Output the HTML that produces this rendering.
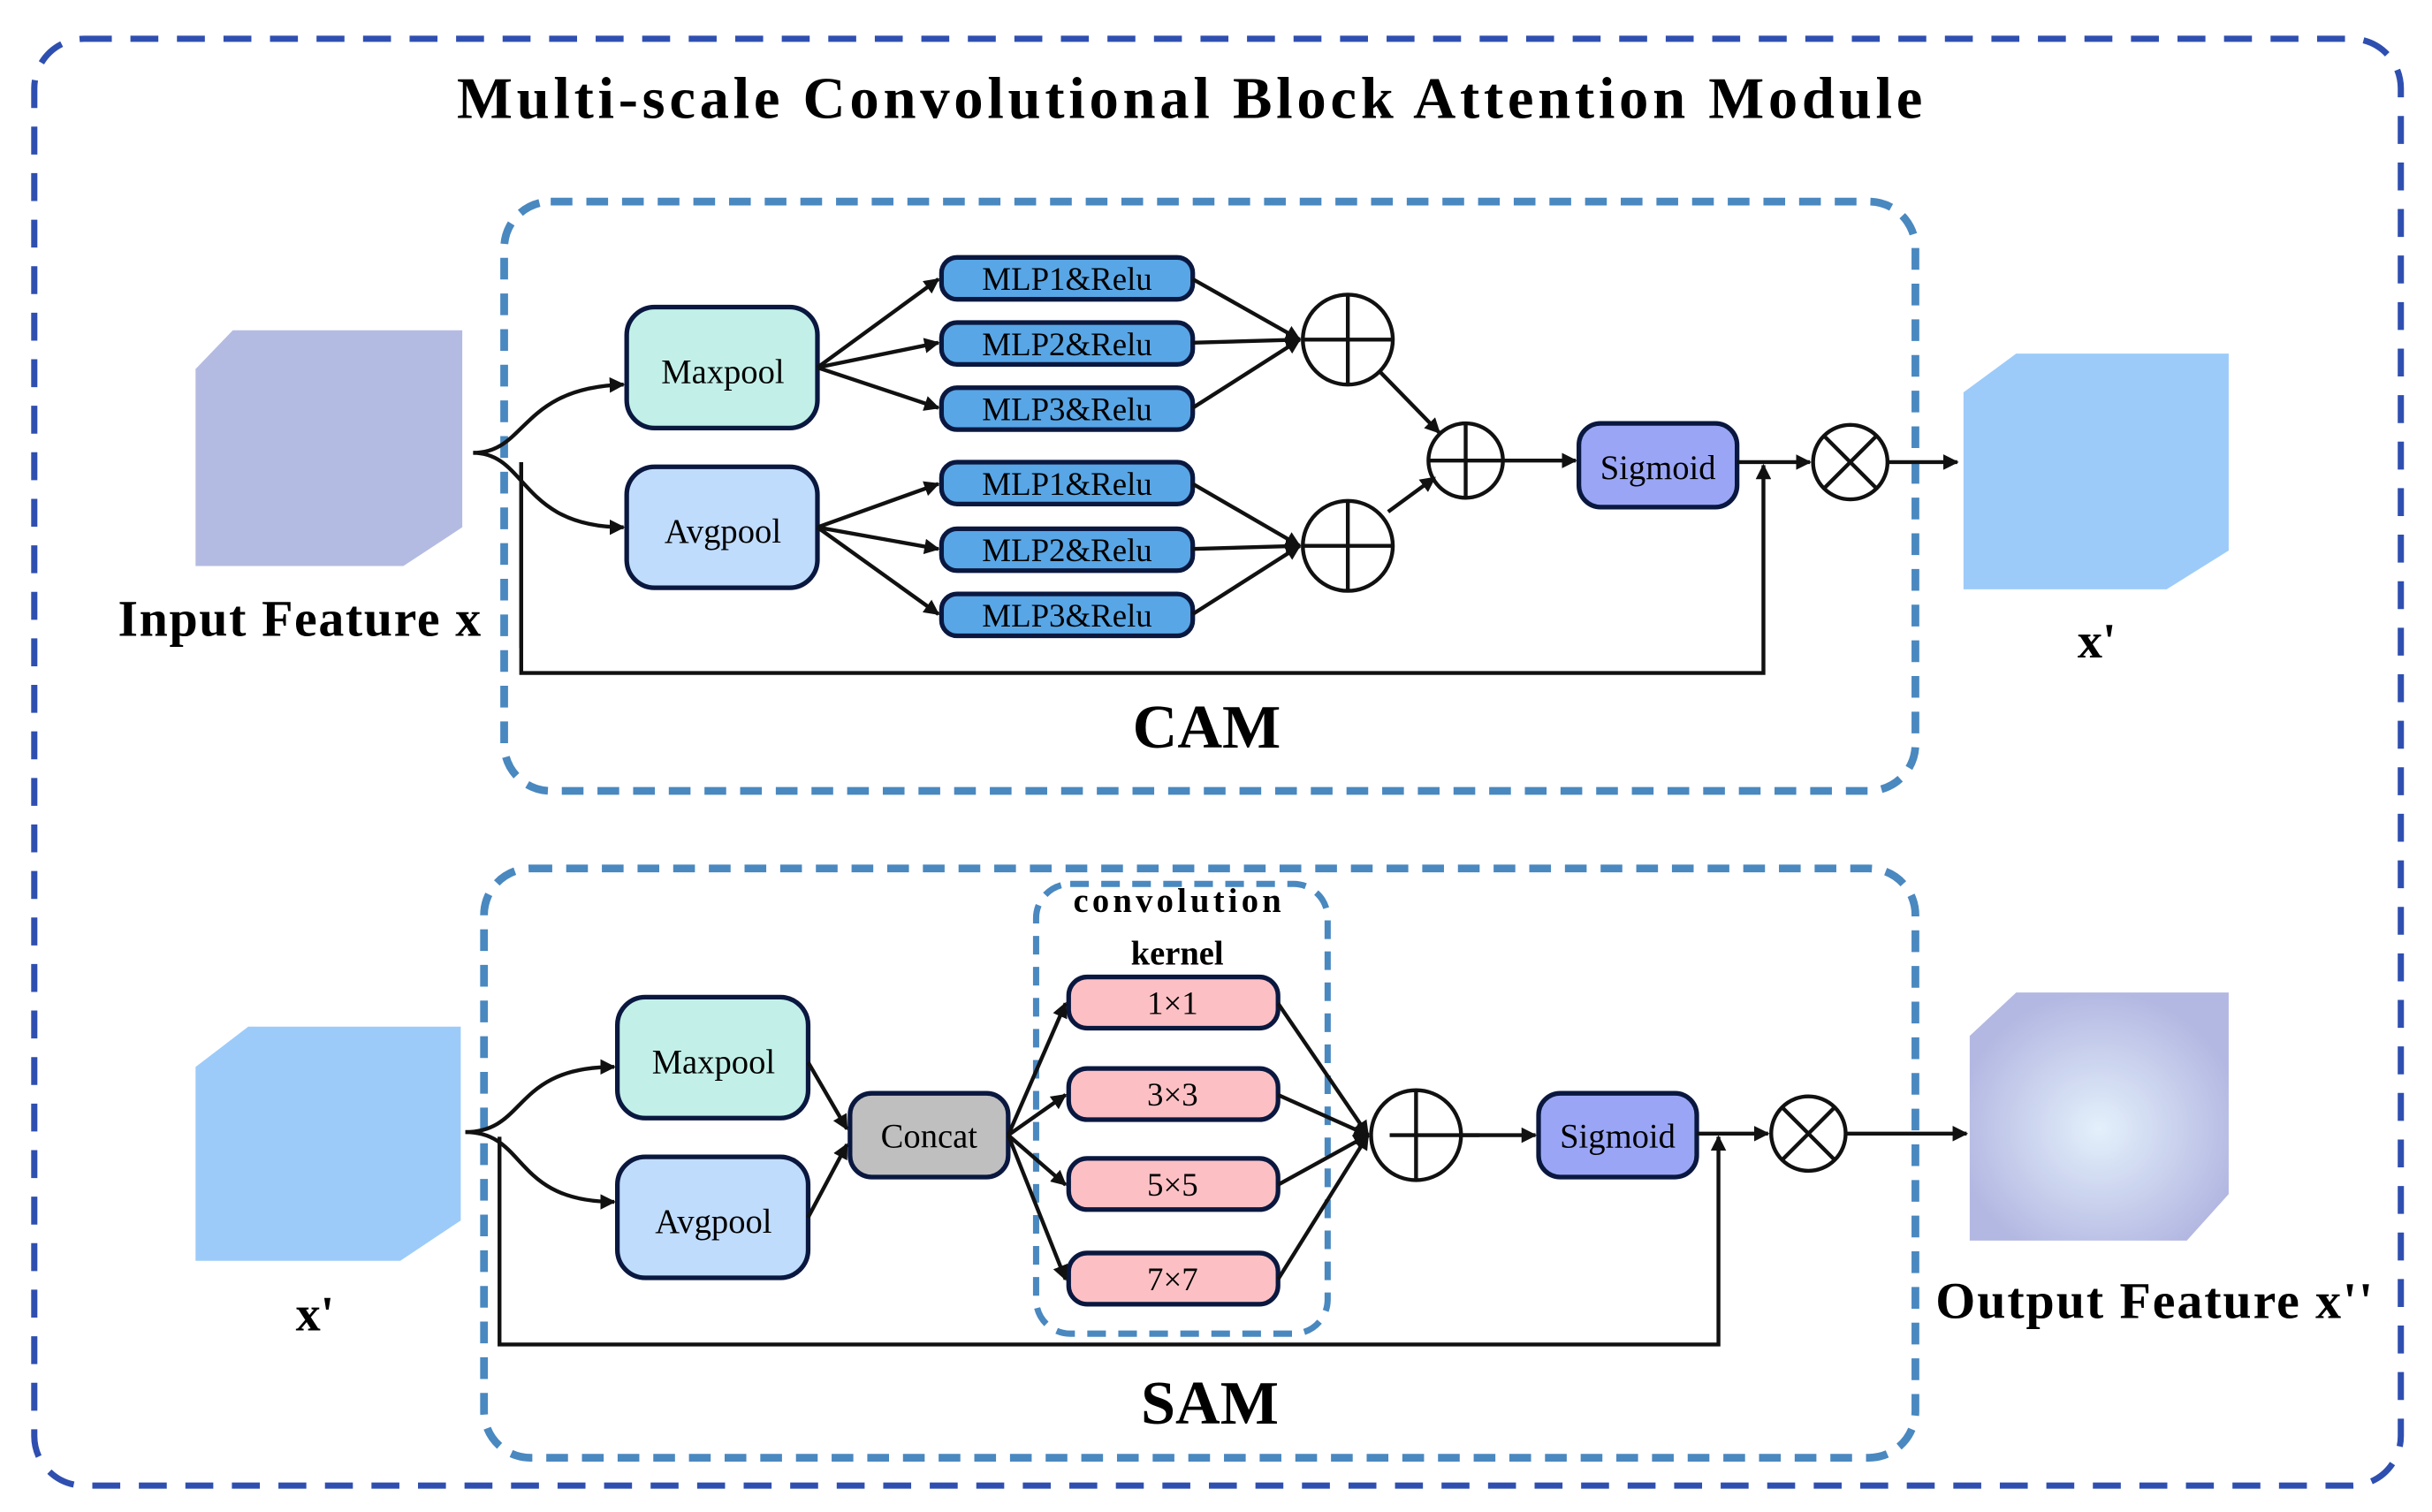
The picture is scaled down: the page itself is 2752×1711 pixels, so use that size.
<!DOCTYPE html>
<html><head><meta charset="utf-8"><style>
html,body{margin:0;padding:0;background:#fff;}
svg{display:block;}
text{font-family:"Liberation Serif",serif;}
</style></head><body>
<svg width="2752" height="1711" viewBox="0 0 1568 975" xmlns="http://www.w3.org/2000/svg">
<defs>
<marker id="a" markerWidth="10" markerHeight="10" refX="9" refY="5" orient="auto" markerUnits="userSpaceOnUse"><path d="M0,0 L10,5 L0,10 z" fill="#111"/></marker>
<radialGradient id="g" cx="50%" cy="55%" r="55%"><stop offset="0" stop-color="#e4f0fb"/><stop offset="1" stop-color="#b3b8e2"/></radialGradient>
</defs>
<rect x="22" y="25" width="1526" height="933" rx="32" fill="none" stroke="#2f4fb0" stroke-width="4" stroke-dasharray="18,12"/>
<text x="767" y="76" font-size="38" font-weight="bold" text-anchor="middle" textLength="945" lengthAdjust="spacing">Multi-scale Convolutional Block Attention Module</text>
<rect x="325" y="130" width="910" height="380" rx="30" fill="none" stroke="#4a88c0" stroke-width="5" stroke-dasharray="14,9"/>
<rect x="312" y="560" width="923" height="380" rx="30" fill="none" stroke="#4a88c0" stroke-width="5" stroke-dasharray="14,9"/>
<rect x="668" y="570" width="188" height="290" rx="22" fill="none" stroke="#4a88c0" stroke-width="4" stroke-dasharray="12,8"/>
<text x="778" y="482" font-size="40" font-weight="bold" text-anchor="middle">CAM</text>
<text x="780" y="918" font-size="40" font-weight="bold" text-anchor="middle">SAM</text>
<text x="759" y="588" font-size="22" font-weight="bold" text-anchor="middle" textLength="134" lengthAdjust="spacing">convolution</text>
<text x="759" y="622" font-size="22" font-weight="bold" text-anchor="middle">kernel</text>
<polygon points="150,213 298,213 298,340 260,365 126,365 126,238" fill="#b4bbe2"/>
<text x="193" y="410" font-size="33" font-weight="bold" text-anchor="middle" textLength="234" lengthAdjust="spacing">Input Feature x</text>
<polygon points="1300,228 1437,228 1437,355 1397,380 1266,380 1266,253" fill="#9ccbf9"/>
<text x="1352" y="424" font-size="32" font-weight="bold" text-anchor="middle">x'</text>
<polygon points="160,662 297,662 297,787 258,813 126,813 126,688" fill="#9ccbf9"/>
<text x="203" y="858" font-size="32" font-weight="bold" text-anchor="middle">x'</text>
<polygon points="1300,640 1437,640 1437,770 1410,800 1270,800 1270,668" fill="url(#g)"/>
<text x="1389" y="850" font-size="33" font-weight="bold" text-anchor="middle" textLength="282" lengthAdjust="spacing">Output Feature x''</text>
<g stroke="#0a1840" stroke-width="3">
<rect x="404" y="198" width="123" height="78" rx="18" fill="#c2f0e8"/>
<rect x="404" y="301" width="123" height="78" rx="18" fill="#c0dcfc"/>
<rect x="398" y="643" width="123" height="78" rx="18" fill="#c2f0e8"/>
<rect x="398" y="746" width="123" height="78" rx="18" fill="#c0dcfc"/>
<rect x="548" y="705" width="102" height="54" rx="14" fill="#bfbfbf"/>
<rect x="1018" y="273" width="102" height="54" rx="14" fill="#9aa6f5"/>
<rect x="992" y="705" width="102" height="54" rx="14" fill="#9aa6f5"/>
<g fill="#58a6e6">
<rect x="607" y="166" width="162" height="27" rx="10"/>
<rect x="607" y="208" width="162" height="27" rx="10"/>
<rect x="607" y="250" width="162" height="27" rx="10"/>
<rect x="607" y="298" width="162" height="27" rx="10"/>
<rect x="607" y="341" width="162" height="27" rx="10"/>
<rect x="607" y="383" width="162" height="27" rx="10"/>
</g>
<g fill="#fcc0c4">
<rect x="689" y="630" width="135" height="33" rx="12"/>
<rect x="689" y="689" width="135" height="33" rx="12"/>
<rect x="689" y="747" width="135" height="33" rx="12"/>
<rect x="689" y="808" width="135" height="33" rx="12"/>
</g>
</g>
<g font-size="22" text-anchor="middle">
<text x="466" y="247">Maxpool</text><text x="466" y="350">Avgpool</text>
<text x="460" y="692">Maxpool</text><text x="460" y="795">Avgpool</text>
<text x="599" y="740">Concat</text>
<text x="1069" y="309">Sigmoid</text><text x="1043" y="740">Sigmoid</text>
</g>
<g font-size="21" text-anchor="middle">
<text x="688" y="187">MLP1&amp;Relu</text><text x="688" y="229">MLP2&amp;Relu</text><text x="688" y="271">MLP3&amp;Relu</text>
<text x="688" y="319">MLP1&amp;Relu</text><text x="688" y="362">MLP2&amp;Relu</text><text x="688" y="404">MLP3&amp;Relu</text>
<text x="756" y="654">1×1</text><text x="756" y="713">3×3</text><text x="756" y="771">5×5</text><text x="756" y="832">7×7</text>
</g>
<g fill="#fff" stroke="#111" stroke-width="2.5">
<circle cx="869" cy="219" r="29"/><circle cx="869" cy="352" r="29"/><circle cx="945" cy="297" r="24"/>
<circle cx="1193" cy="298" r="24"/><circle cx="913" cy="732" r="29"/><circle cx="1166" cy="731" r="24"/>
</g>
<g stroke="#111" stroke-width="2.5">
<path d="M840,219h58M869,190v58M840,352h58M869,323v58M921,297h48M945,273v48M896,732h58M913,703v58"/>
<path d="M1176,281l34,34M1210,281l-34,34M1149,714l34,34M1183,714l-34,34"/>
</g>
<g fill="none" stroke="#111" stroke-width="2.5" marker-end="url(#a)">
<path d="M305,292 C340,292 335,250 402,248"/>
<path d="M305,292 C340,292 335,340 402,340"/>
<path d="M527,237 L605,180"/><path d="M527,237 L605,221"/><path d="M527,237 L605,263"/>
<path d="M527,340 L605,312"/><path d="M527,340 L605,354"/><path d="M527,340 L605,396"/>
<path d="M769,180 L838,219"/><path d="M769,221 L838,219"/><path d="M769,263 L838,219"/>
<path d="M769,312 L838,352"/><path d="M769,354 L838,352"/><path d="M769,396 L838,352"/>
<path d="M890,240 L928,279"/><path d="M895,330 L925,308"/>
<path d="M969,297 L1016,297"/><path d="M1120,298 L1167,298"/><path d="M1217,298 L1262,298"/>
<path d="M336,298 V434 H1137 V300"/>
<path d="M300,730 C340,730 330,688 396,688"/>
<path d="M300,730 C340,730 330,775 396,775"/>
<path d="M521,685 L546,728"/><path d="M521,785 L546,738"/>
<path d="M650,732 L687,647"/><path d="M650,732 L687,706"/><path d="M650,732 L687,764"/><path d="M650,732 L687,825"/>
<path d="M824,647 L882,732"/><path d="M824,706 L882,732"/><path d="M824,764 L882,732"/><path d="M824,825 L882,732"/>
<path d="M942,732 L990,732"/><path d="M1094,731 L1140,731"/><path d="M1190,731 L1268,731"/>
<path d="M322,733 V867 H1108 V733"/>
</g>
<path d="M336,298 V418" stroke="#111" stroke-width="2.5"/>
</svg>
</body></html>
